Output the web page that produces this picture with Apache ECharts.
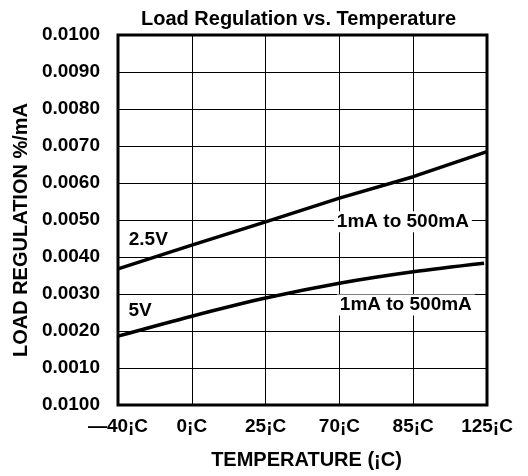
<!DOCTYPE html>
<html>
<head>
<meta charset="utf-8">
<script src="https://cdn.jsdelivr.net/npm/echarts@6/dist/echarts.min.js"></script>
<style>html,body{margin:0;padding:0;background:#fff}#c{width:528px;height:476px}</style>
</head>
<body>
<div id="c"></div>
<script>
// Data
var xTickLabels = ['\u201440\u00a1C', '0\u00a1C', '25\u00a1C', '70\u00a1C', '85\u00a1C', '125\u00a1C'];
var yTickLabels = ['0.0100', '0.0010', '0.0020', '0.0030', '0.0040', '0.0050', '0.0060', '0.0070', '0.0080', '0.0090', '0.0100'];
var xPos = [0, 1, 2, 3, 4, 5];
var v25 = [0.00368, 0.00432, 0.00495, 0.00559, 0.00617, 0.00685];
var xPos5 = [0, 1, 2, 3, 4, 4.96];
var v5 = [0.00186, 0.00240, 0.00289, 0.00329, 0.00360, 0.00383];
var annotations = [
  { text: '2.5V', x: 0.41, y: 0.00446, boxed: false },
  { text: '5V', x: 0.30, y: 0.00254, boxed: false },
  { text: '1mA to 500mA', x: 3.86, y: 0.00495, boxed: true },
  { text: '1mA to 500mA', x: 3.90, y: 0.00270, boxed: true }
];

var FONT = '"Liberation Sans", Arial, sans-serif';
var chart = echarts.init(document.getElementById('c'), null, { renderer: 'canvas' });

function pairs(xs, ys) { return xs.map(function (x, i) { return [x, ys[i]]; }); }

var option = {
  animation: false,
  backgroundColor: '#fff',
  title: {
    text: 'Load Regulation vs. Temperature',
    left: 136, top: 4,
    textStyle: { fontFamily: FONT, fontWeight: 'bold', fontSize: 20, color: '#000' }
  },
  grid: { left: 118, right: 41, top: 35, bottom: 71, show: true, borderColor: '#000', borderWidth: 3, backgroundColor: 'transparent' },
  xAxis: {
    type: 'value', min: 0, max: 5, interval: 1,
    name: 'TEMPERATURE (\u00a1C)', nameLocation: 'middle', nameGap: 45,
    nameTextStyle: { fontFamily: FONT, fontWeight: 'bold', fontSize: 20, color: '#000', padding: [0, 0, 0, 8] },
    axisLine: { show: false }, axisTick: { show: false },
    splitLine: { show: true, lineStyle: { color: '#000', width: 1 } },
    axisLabel: {
      margin: 12, fontFamily: FONT, fontWeight: 'bold', fontSize: 19, color: '#000',
      formatter: function (v) { return xTickLabels[Math.round(v)] || ''; }
    }
  },
  yAxis: {
    type: 'value', min: 0, max: 0.01, interval: 0.001,
    name: 'LOAD REGULATION %/mA', nameLocation: 'middle', nameGap: 84, nameRotate: 90,
    nameTextStyle: { fontFamily: FONT, fontWeight: 'bold', fontSize: 20, color: '#000', padding: [0, 20, 0, 0] },
    axisLine: { show: false }, axisTick: { show: false },
    splitLine: { show: true, lineStyle: { color: '#000', width: 1 } },
    axisLabel: {
      margin: 18, fontFamily: FONT, fontWeight: 'bold', fontSize: 19, color: '#000',
      formatter: function (v) { return yTickLabels[Math.round(v / 0.001)] || ''; }
    }
  },
  series: [
    {
      type: 'line', name: '2.5V', data: pairs(xPos, v25), showSymbol: false, symbol: 'none',
      lineStyle: { color: '#000', width: 3.5 }, z: 3,
      markPoint: {
        silent: true, animation: false,
        data: annotations.map(function (a) {
          return {
            coord: [a.x, a.y], symbol: 'rect', symbolSize: [1, 1],
            itemStyle: { color: 'rgba(0,0,0,0)' },
            label: {
              show: true, formatter: a.text, position: 'inside',
              fontFamily: FONT, fontWeight: 'bold', fontSize: 19, color: '#000',
              backgroundColor: a.boxed ? '#fff' : 'transparent', padding: a.boxed ? [1, 3] : 0
            }
          };
        })
      }
    },
    {
      type: 'line', name: '5V', data: pairs(xPos5, v5), showSymbol: false, symbol: 'none', smooth: 0.3,
      lineStyle: { color: '#000', width: 3.5 }, z: 3
    }
  ]
};
chart.setOption(option);
</script>
</body>
</html>
